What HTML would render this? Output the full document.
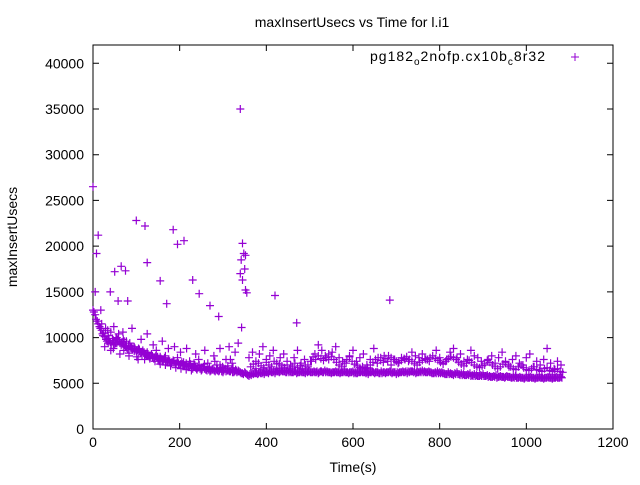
<!DOCTYPE html>
<html><head><meta charset="utf-8"><style>
body{margin:0;background:#fff}
svg text{font-family:"Liberation Sans",sans-serif;font-size:14px;fill:#000}
</style></head><body>
<svg id="chart" width="640" height="480" viewBox="0 0 640 480" xmlns="http://www.w3.org/2000/svg">
<rect width="640" height="480" fill="#fff"/>
<text x="352" y="27" text-anchor="middle">maxInsertUsecs vs Time for l.i1</text>
<text x="353" y="472" text-anchor="middle">Time(s)</text>
<text x="17" y="237" text-anchor="middle" transform="rotate(-90 17 237)">maxInsertUsecs</text>
<g id="axes"></g>
<g id="marks"></g>
<g>
<text x="370" y="61" font-size="15" textLength="175" lengthAdjust="spacing">pg182<tspan font-size="10" dy="4">o</tspan><tspan dy="-4">2nofp.cx10b</tspan><tspan font-size="10" dy="4">c</tspan><tspan dy="-4">8r32</tspan></text>
<path d="M571 57h8M575 53v8" stroke="#9400d3" stroke-width="1"/>
</g>
</svg>
<script>
const xTicks=[0,200,400,600,800,1000,1200];
const yTicks=[0,5000,10000,15000,20000,25000,30000,35000,40000];
const outlierTimes=[0,5,8,12,18,100,120,185,195,210,230,155,170,75,65,50,58,80,40,125,245,290,270,340,345,348,342,340,350,352,345,355,420,470,685,343,352];
const outlierValues=[26500,15000,19200,21200,13000,22800,22200,21800,20200,20600,16300,16200,13700,17300,17800,17200,14000,14000,15000,18200,14800,12300,13500,35000,20300,19200,18500,17000,17500,15200,16300,14900,14600,11600,14100,11100,19000];
const lowStart=0, lowStep=5;
const lowValues=[13000,12500,11800,11200,10800,
10500,9800,10200,9500,9900,9200,10000,9600,9300,9800,9100,8800,9400,8700,9000,8500,
8800,8300,8600,8100,8400,7900,8200,7700,8000,7600,7900,7500,7800,7300,7600,7200,7500,7100,7400,7000,
7300,6900,7200,6800,7100,6600,7000,6500,6900,6400,6800,6500,6700,6300,6600,6400,6500,6300,6700,6200,6600,6400,6300,6500,6200,6400,6300,6200,
6100,6200,6000,5800,
5900,6000,6100,6000,6200,6100,6000,6200,6100,6300,6200,6100,6300,6200,6400,6300,6200,6400,6300,6200,6300,6100,6200,6300,6200,6100,6200,6300,
6200,6300,6200,6100,6300,6200,6400,6300,6200,6100,6200,6300,6200,6100,6200,6300,6200,6100,6200,6300,6200,6100,6200,6300,6200,6100,6000,6200,6300,6100,6200,6100,6300,6200,6100,6200,6300,6100,6200,6000,6100,6200,6300,6200,6100,6200,6300,6200,6100,6200,6300,6400,6300,6200,6300,6200,6100,6200,6300,6200,
6200,6100,6000,6200,6100,6000,6100,6200,6000,6100,6000,5900,6000,6100,5900,6000,5900,5800,5900,6000,5800,5900,5800,5700,5800,5900,5700,5800,5700,5600,5800,5700,5600,5700,5800,5600,5700,5600,5500,5700,5600,5700,5600,5500,5600,5700,5600,5500,5600,5700,5600,5500,5600,5700,5600,5700];
const low2Start=2, low2Step=5;
const low2Values=[12800,12000,11500,11000,10400,10100,9600,9900,9300,9700,9400,9800,9400,9500,9600,8900,9100,9000,8800,8700,8600,8500,8400,8300,8200,8200,8000,7900,7800,7800,7700,7700,7600,7500,7400,7400,7300,7300,7200,7200,7100,7100,7000,6900,6900,6800,6800,6700,6700,6600,6600,6600,6500,6500,6400,6500,6300,6400,6400,6300,6400,6300,6400,6300,6200,6300,6200,6300,6100,6000,6100,5900,6000,6100,6100,6100,6100,6100,6200,6200,6200,6300,6200,6300,6300,6300,6300,6300,6300,6200,6200,6200,6200,6300,6200,6200,6200,6200,6300,6300,6200,6200,6200,6300,6200,6300,6200,6200,6200,6200,6200,6200,6200,6200,6200,6200,6200,6200,6200,6200,6100,6100,6200,6200,6200,6200,6200,6200,6200,6200,6200,6200,6100,6100,6200,6200,6200,6200,6200,6200,6200,6200,6200,6200,6300,6300,6300,6300,6300,6200,6200,6200,6200,6200,6200,6200,6100,6100,6100,6100,6100,6100,6000,6000,6000,6000,5900,6000,6000,5900,5900,5900,5900,5900,5800,5800,5800,5800,5800,5800,5800,5800,5700,5700,5700,5700,5600,5700,5700,5700,5700,5700,5700,5600,5600,5600,5600,5600,5600,5600,5600,5600,5600,5600,5600,5600,5600,5600,5600,5600,5600,5600,5600,5600,5600,5600,5600];
const earlyStart=20, earlyStep=7;
const earlyValues=[11500,9000,10800,8600,11200,9400,8200,10600,9000,8000,11000,8800,7600,9800,8400,10400,7800,9200,8600,7400,9600,8000,8800,7200,9000,7800,8400,7000,8800,7400,6800,8200,7600,6600,8600,7200,6400,8000,7000,8800,6600,7600,9000,7200,8400,9400];
const early2Start=23, early2Step=6;
const early2Values=[10200,11000,9400,10600,8800,9900,10400,9200,8600,9600,8300,9000,8500,7900,8700,8100,7600,8300,7700,8000,7400,7900,7100,7600,7000,7300,6900,7500,6700,7100,6600,7300,6500,6900,6400,7200,6600,7000,6500,7100,6400,6800,6500,7400,6600,7000,6800,6600,6900,7600,6700,6500,6400];
const upStart=360, upStep=8;
const upValues=[7800,8400,7400,8200,9000,7600,8000,8600,7200,7800,8200,7400,7000,7800,8600,7200,7600,7000,
7400,8200,9200,8600,8000,7600,8400,9000,7800,7400,7200,8000,8600,7400,7800,8200,7000,7600,8800,7200,7800,8000,7400,7000,7600,
7200,7800,7600,7400,8400,8000,7800,8200,7600,7400,8000,8600,7800,7200,7600,8400,8800,7800,8200,7400,7600,8600,8000,7800,7400,
7000,7600,8000,7200,7800,8400,7400,6800,7600,8000,7200,7000,7800,8200,6800,7400,7000,7600,8800,7200,6600,7400,7000];
const mid2Start=364, mid2Step=6;
const mid2Values=[6800,7100,6600,7200,6900,6700,7300,7000,6800,7400,6600,7100,6900,6700,7000,6600,6800,7200,6700,6900,6600,7000,6800,7400,7900,7600,8000,7700,7500,7800,8200,7900,7600,7300,7000,6800,7200,7600,7900,7400,7100,6900,6700,6800,6600,6700,7000,7300,7600,7800,7500,7300,7700,8000,7800,7600,7400,7300,7500,7700,7900,7600,7400,7200,7000,7300,7500,7700,7600,7800,8000,7700,7500,7300,7100,7400,7700,7900,7800,7600,7300,7100,6900,7200,7500,7300,7000,6800,6700,6900,7200,7500,7300,7000,6800,6600,6800,7100,7300,7000,6800,6600,6500,6800,7000,6700,6500,6400,6600,6800,6500,6400,6300,6600,6700,6400,6300,6500,6600,6300,6200];
const X0=93,X1=613,Y0=429,Y1=45;
const xMax=1200,yMax=42000;
const sx=v=>X0+(v/xMax)*(X1-X0);
const sy=v=>Y0-(v/yMax)*(Y0-Y1);
const NS='http://www.w3.org/2000/svg';
const axes=document.getElementById('axes');
const marks=document.getElementById('marks');
function mk(tag,parent){const e=document.createElementNS(NS,tag);parent.appendChild(e);return e;}
const frame=mk('rect',axes);


frame.setAttribute('x',X0);frame.setAttribute('y',Y1);frame.setAttribute('width',X1-X0);frame.setAttribute('height',Y0-Y1);
frame.setAttribute('fill','none');frame.setAttribute('stroke','#000');
xTicks.forEach(t=>{
  const x=sx(t);
  const p=mk('path',axes);
  
  
  p.setAttribute('d',`M${x} ${Y0}v-6M${x} ${Y1}v6`);p.setAttribute('stroke','#000');
  const l=mk('text',axes);
  
  
  l.setAttribute('x',x);l.setAttribute('y',Y0+18);l.setAttribute('text-anchor','middle');l.textContent=t;
});
yTicks.forEach(t=>{
  const y=sy(t);
  const p=mk('path',axes);
  
  
  p.setAttribute('d',`M${X0} ${y}h6M${X1} ${y}h-6`);p.setAttribute('stroke','#000');
  const l=mk('text',axes);
  
  
  l.setAttribute('x',X0-9);l.setAttribute('y',y+5);l.setAttribute('text-anchor','end');l.textContent=t;
});
let d='';
function add(t,v){const x=sx(t),y=sy(v);d+=`M${(x-4).toFixed(1)} ${y.toFixed(1)}h8M${x.toFixed(1)} ${(y-4).toFixed(1)}v8`;}
lowValues.forEach((v,i)=>add(lowStart+i*lowStep,v));
low2Values.forEach((v,i)=>add(low2Start+i*low2Step,v));
earlyValues.forEach((v,i)=>add(earlyStart+i*earlyStep,v));
early2Values.forEach((v,i)=>add(early2Start+i*early2Step,v));
upValues.forEach((v,i)=>add(upStart+i*upStep,v));
mid2Values.forEach((v,i)=>add(mid2Start+i*mid2Step,v));
outlierTimes.forEach((t,i)=>add(t,outlierValues[i]));
const path=mk('path',marks);


path.setAttribute('d',d);path.setAttribute('stroke','#9400d3');path.setAttribute('stroke-width','1.2');path.setAttribute('fill','none');
</script>
</body></html>
